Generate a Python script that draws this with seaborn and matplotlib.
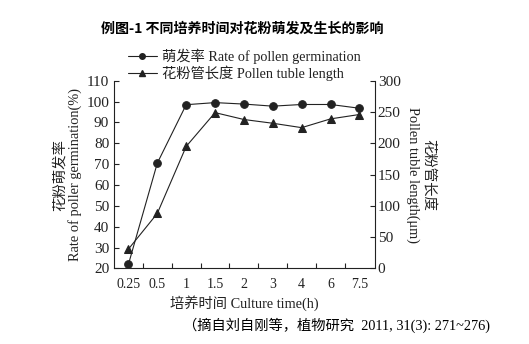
import matplotlib
matplotlib.use("Agg")
import matplotlib.pyplot as plt
from matplotlib.lines import Line2D
import seaborn as sns
import pandas as pd

# Culture time categories (h)
times = ["0.25", "0.5", "1", "1.5", "2", "3", "4", "6", "7.5"]
# Pollen germination rate (%), left axis
germination = [22, 70.5, 98.5, 99.5, 98.8, 97.8, 98.6, 98.6, 96.8]
# Pollen tube length (μm), right axis
tube_length = [31, 88, 195, 249, 238, 232, 225, 239, 246]

title_text = "例图-1 不同培养时间对花粉萌发及生长的影响"
source_text = "（摘自刘自刚等，植物研究  2011, 31(3): 271~276)"

df = pd.DataFrame({
    "pos": range(len(times)),
    "time": times,
    "germination": germination,
    "tube_length": tube_length,
})

sns.set_theme(style="ticks")
plt.rcParams["font.family"] = ["Liberation Serif", "Noto Sans CJK SC"]
plt.rcParams["axes.unicode_minus"] = False

line_color = "#222222"

fig = plt.figure(figsize=(5.29, 3.44), dpi=100)
fig.patch.set_facecolor("white")
ax = fig.add_axes([0.2155, 0.2195, 0.4934, 0.5459])
ax2 = ax.twinx()

sns.lineplot(data=df, x="pos", y="germination", ax=ax, color=line_color,
             marker="o", markersize=5.5, markeredgecolor=line_color,
             linewidth=0.8, legend=False)
sns.lineplot(data=df, x="pos", y="tube_length", ax=ax2, color=line_color,
             marker="^", markersize=5.5, markeredgecolor=line_color,
             linewidth=0.8, legend=False)

# Axis limits and ticks
ax.set_xlim(-0.5, 8.54)
ax.set_ylim(20, 110)
ax.set_yticks(range(20, 111, 10))
ax2.set_ylim(0, 300)
ax2.set_yticks(range(0, 301, 50))

# Category labels at each point, tick marks between categories
ax.set_xticks(range(len(times)))
ax.set_xticklabels(times, fontsize=10)
ax.set_xticks([i + 0.5 for i in range(len(times) - 1)], minor=True)
ax.tick_params(axis="x", which="major", length=0, pad=7, colors="#222222")
ax.tick_params(axis="x", which="minor", direction="in", length=3.5,
               width=0.8, color="#222222")
ax.tick_params(axis="y", direction="in", length=3.5, width=0.8, pad=3.5,
               labelsize=11, colors="#222222")
ax2.tick_params(axis="y", direction="in", length=3.5, width=0.8, pad=2,
                labelsize=11, colors="#222222")

for a in (ax, ax2):
    a.spines["top"].set_visible(False)
    for s in ("left", "right", "bottom"):
        a.spines[s].set_linewidth(0.8)
        a.spines[s].set_color("#222222")
ax.spines["right"].set_visible(False)
ax2.spines["left"].set_visible(False)
ax2.spines["bottom"].set_visible(False)

ax.set_xlabel("培养时间 Culture time(h)", fontsize=10.3, labelpad=3,
              color="#222222")
ax.set_ylabel("花粉萌发率\nRate of poller germination(%)", fontsize=10.4,
              labelpad=3, color="#222222", linespacing=1.15)
ax2.set_ylabel("花粉管长度\nPollen tuble length(μm)", fontsize=10.4,
               rotation=270, labelpad=25, color="#222222", linespacing=1.15)

handles = [
    Line2D([], [], color=line_color, marker="o", markersize=4, linewidth=0.8),
    Line2D([], [], color=line_color, marker="^", markersize=4, linewidth=0.8),
]
labels = ["萌发率 Rate of pollen germination", "花粉管长度 Pollen tuble length"]
fig.legend(handles, labels, loc="upper left", bbox_to_anchor=(0.242, 0.86),
           frameon=False, fontsize=10.3, handlelength=2.0, handletextpad=0.4,
           labelspacing=0.15, borderpad=0, borderaxespad=0, numpoints=1,
           labelcolor="#222222")

fig.text(0.457, 0.918, title_text, ha="center", va="center", fontsize=10.1,
         fontweight="bold", family=["Noto Sans CJK SC", "Liberation Serif"],
         color="black")
fig.text(0.636, 0.055, source_text, ha="center", va="center", fontsize=10.3,
         family=["Liberation Serif", "Noto Sans CJK SC"], color="black")

fig.savefig("out.png", dpi=100, facecolor="white")
